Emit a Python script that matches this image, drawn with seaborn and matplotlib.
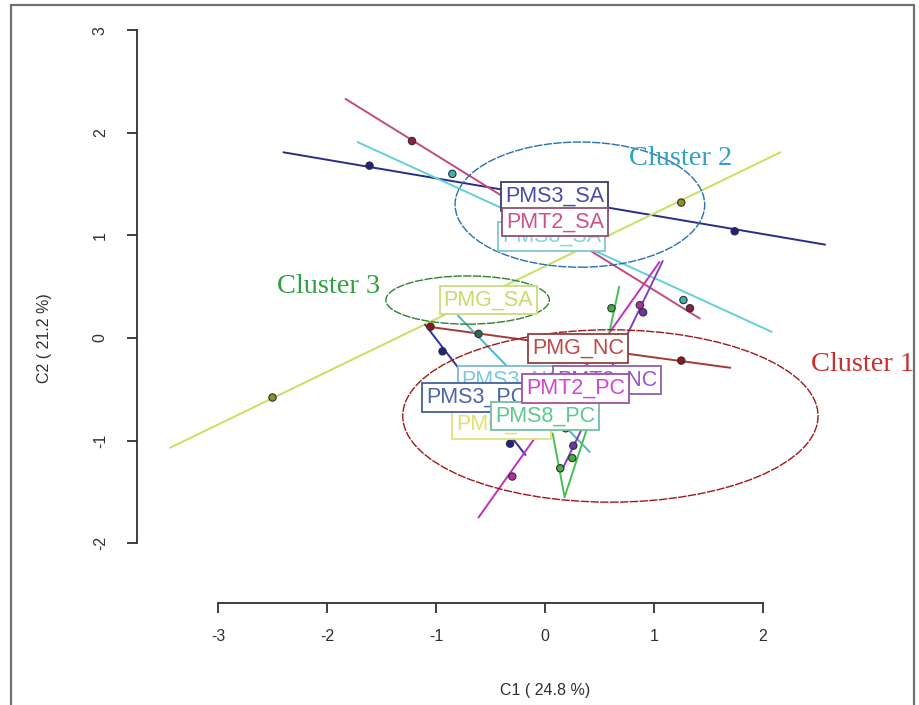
import matplotlib
matplotlib.use("Agg")
import matplotlib.pyplot as plt
import seaborn as sns
import pandas as pd
from matplotlib.patches import Ellipse, Rectangle

# ---------------- data ----------------
# individual labels (mean points)
labels = ["PMS8_SA", "PMS3_SA", "PMT2_SA", "PMG_SA", "PMG_PC", "PMS3_NC",
          "PMT2_NC", "PMS3_PC", "PMS8_PC", "PMT2_PC", "PMG_NC"]
label_x = [0.06, 0.09, 0.09, -0.52, -0.40, -0.30, 0.57, -0.63, 0.00, 0.28, 0.30]
label_y = [0.99, 1.38, 1.13, 0.37, -0.84, -0.41, -0.41, -0.58, -0.76, -0.49, -0.10]
label_text_colors = ["#7fd6e0", "#4a4aa8", "#d0508a", "#c4dc6c", "#e2e26a", "#7cc8e0",
                     "#9a58d0", "#4a64a8", "#5cc890", "#d046d0", "#c04848"]
label_edge_colors = ["#80c8d0", "#3a3a70", "#905070", "#c8dc80", "#e0e080", "#80b8d0",
                     "#9060b0", "#4060a0", "#70c0a0", "#a050a0", "#904040"]

# partial-axis segments (start / end) per individual
seg_ind = ["PMS3_SA", "PMT2_SA", "PMS8_SA", "PMG_SA", "PMG_NC", "PMS3_NC",
           "PMS3_PC", "PMT2_PC", "PMT2_NC", "PMS8_PC", "PMS8_PC", "PMS8_PC"]
seg_x0 = [-2.40, -1.83, -1.72, -3.44, -1.07, -0.80, -1.10, -0.61, 0.15, 0.18, 0.18, 0.55]
seg_y0 = [1.81, 2.33, 1.91, -1.07, 0.11, 0.22, 0.13, -1.75, -1.30, -1.55, -1.55, -0.15]
seg_x1 = [2.57, 1.42, 2.08, 2.16, 1.70, 0.41, -0.18, 1.05, 1.08, 0.07, 0.38, 0.68]
seg_y1 = [0.91, 0.19, 0.06, 1.81, -0.29, -1.11, -1.14, 0.74, 0.75, -0.93, -0.90, 0.50]
seg_colors = {"PMS3_SA": "#2b2b8c", "PMT2_SA": "#c24a7c", "PMS8_SA": "#62d0d8",
              "PMG_SA": "#c8e060", "PMG_NC": "#a83838", "PMS3_NC": "#48b8c8",
              "PMS3_PC": "#3030a0", "PMT2_PC": "#c030c0", "PMT2_NC": "#8040c0",
              "PMS8_PC": "#44c050"}

# partial points
pt_ind = ["PMS3_SA", "PMS3_SA", "PMT2_SA", "PMT2_SA", "PMS8_SA", "PMS8_SA",
          "PMG_SA", "PMG_SA", "PMG_NC", "PMG_NC", "PMS3_NC", "PMS3_PC", "PMS3_PC",
          "PMT2_PC", "PMT2_PC", "PMT2_NC", "PMT2_NC", "PMS8_PC", "PMS8_PC", "PMS8_PC",
          "PMS8_PC"]
pt_x = [-1.61, 1.74, -1.22, 1.33, -0.85, 1.27, -2.50, 1.25, -1.05, 1.25, -0.61,
        -0.94, -0.32, -0.30, 0.87, 0.26, 0.90, 0.14, 0.25, 0.61, 0.19]
pt_y = [1.68, 1.04, 1.92, 0.29, 1.60, 0.37, -0.58, 1.32, 0.11, -0.22, 0.04,
        -0.13, -1.03, -1.35, 0.32, -1.05, 0.25, -1.27, -1.17, 0.29, -0.88]
pt_colors = {"PMS3_SA": "#20208a", "PMT2_SA": "#8c2040", "PMS8_SA": "#40b0b0",
             "PMG_SA": "#909020", "PMG_NC": "#8b1a1a", "PMS3_NC": "#306858",
             "PMS3_PC": "#20208a", "PMT2_PC": "#b030a0", "PMT2_NC": "#7030b0",
             "PMS8_PC": "#40b040"}

# clusters
cluster_names = ["Cluster 1", "Cluster 2", "Cluster 3"]
cluster_cx = [0.60, 0.32, -0.71]
cluster_cy = [-0.76, 1.30, 0.37]
cluster_w = [3.81, 2.29, 1.50]
cluster_h = [1.68, 1.22, 0.47]
cluster_colors = ["#a01818", "#2a70b0", "#308030"]
cluster_text_x = [2.91, 1.24, -1.99]
cluster_text_y = [-0.26, 1.75, 0.50]
cluster_text_colors = ["#c83030", "#30a0c8", "#30a040"]

x_ticks = [-3, -2, -1, 0, 1, 2]
y_ticks = [-2, -1, 0, 1, 2, 3]
x_label = "C1 ( 24.8 %)"
y_label = "C2 ( 21.2 %)"

# ---------------- figure ----------------
sns.set_style("white")
plt.rcParams["font.family"] = ["Liberation Sans", "DejaVu Sans"]

W, H = 920, 705
fig = plt.figure(figsize=(W / 100, H / 100), dpi=100)
ax_left, ax_bottom = 137 / W, (H - 603) / H
ax_right, ax_top = 905 / W, (H - 12) / H
ax = fig.add_axes([ax_left, ax_bottom, ax_right - ax_left, ax_top - ax_bottom])
ax.set_xlim((137 - 545) / 109, (905 - 545) / 109)
ax.set_ylim((338 - 603) / 102.6, (338 - 12) / 102.6)

# segments
rows = []
for i, ind in enumerate(seg_ind):
    rows.append({"seg": i, "ind": ind, "x": seg_x0[i], "y": seg_y0[i]})
    rows.append({"seg": i, "ind": ind, "x": seg_x1[i], "y": seg_y1[i]})
seg_df = pd.DataFrame(rows)
sns.lineplot(data=seg_df, x="x", y="y", hue="ind", units="seg", estimator=None,
             sort=False, palette=seg_colors, legend=False, linewidth=1.4, ax=ax,
             zorder=2)

# points
pt_df = pd.DataFrame({"ind": pt_ind, "x": pt_x, "y": pt_y})
sns.scatterplot(data=pt_df, x="x", y="y", hue="ind", palette=pt_colors,
                legend=False, s=28, edgecolor="#303030", linewidth=0.8, ax=ax,
                zorder=3)

# cluster ellipses
for i in range(len(cluster_names)):
    e = Ellipse((cluster_cx[i], cluster_cy[i]), cluster_w[i], cluster_h[i],
                fill=False, edgecolor=cluster_colors[i], linewidth=1.0,
                linestyle=(0, (6, 1)), zorder=4)
    ax.add_patch(e)
    ax.text(cluster_text_x[i], cluster_text_y[i], cluster_names[i],
            color=cluster_text_colors[i], fontsize=20.5, family="Liberation Serif",
            ha="center", va="center", zorder=6)

# individual labels
for i, lab in enumerate(labels):
    ax.text(label_x[i], label_y[i], lab, color=label_text_colors[i], fontsize=15.5,
            ha="center", va="center", zorder=5 + i * 0.01,
            bbox=dict(boxstyle="square,pad=0.18", facecolor="white",
                      edgecolor=label_edge_colors[i], linewidth=1.3))

# R-style axes
for s in ["top", "right"]:
    ax.spines[s].set_visible(False)
ax.spines["left"].set_bounds(min(y_ticks), max(y_ticks))
ax.spines["bottom"].set_bounds(min(x_ticks), max(x_ticks))
for s in ["left", "bottom"]:
    ax.spines[s].set_color("#303030")
    ax.spines[s].set_linewidth(1.3)
ax.set_xticks(x_ticks)
ax.set_yticks(y_ticks)
ax.set_xticklabels([str(t) for t in x_ticks])
ax.set_yticklabels([str(t) for t in y_ticks], rotation=90, va="center")
ax.tick_params(axis="both", direction="out", length=7, width=1.3,
               color="#303030", labelsize=11.5, labelcolor="#303030",
               bottom=True, left=True)
ax.tick_params(axis="x", pad=12)
ax.tick_params(axis="y", pad=14)
ax.set_xlabel("")
ax.set_ylabel("")
fig.text(545 / W, 1 - 690 / H, x_label, ha="center", va="center", fontsize=11.5,
         color="#303030")
fig.text(45 / W, 1 - 338 / H, y_label, ha="center", va="center", fontsize=11.5,
         rotation=90, color="#303030")

# outer frame
fig.patches.append(Rectangle((11 / W, -0.02), (914 - 11) / W, 1 - 5 / H + 0.02,
                             transform=fig.transFigure, fill=False,
                             edgecolor="#707070", linewidth=1.6))

fig.savefig("out.png", dpi=100)
